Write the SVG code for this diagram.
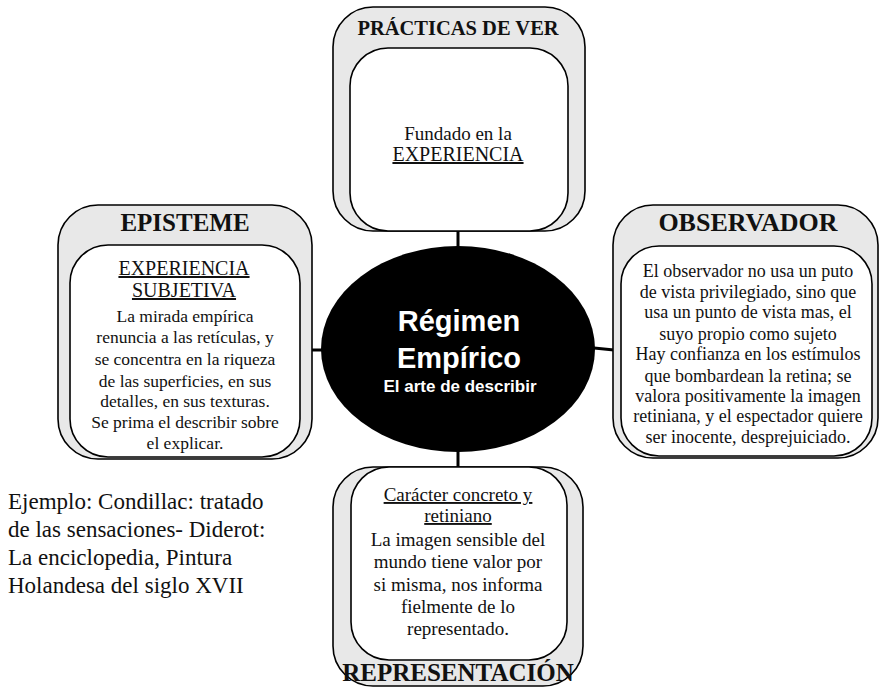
<svg xmlns="http://www.w3.org/2000/svg" width="881" height="687" viewBox="0 0 881 687">
<style>
.outer{fill:#e8e8e8;stroke:#000;stroke-width:1.6}
.inner{fill:#fff;stroke:#000;stroke-width:1.6}
.conn{stroke:#000;stroke-width:3;fill:none}
.title{font-family:"Liberation Serif",serif;font-weight:bold;text-anchor:middle;fill:#111}
.head{font-family:"Liberation Serif",serif;font-size:20px;text-anchor:middle;fill:#111;text-decoration:underline}
.body{font-family:"Liberation Serif",serif;text-anchor:middle;fill:#111}
.center{font-family:"Liberation Sans",Arial,sans-serif;font-weight:bold;fill:#fff;text-anchor:middle}
.note{font-family:"Liberation Serif",serif;font-size:23px;fill:#111}
</style>
<g id="connectors">
<line class="conn" x1="458" y1="231" x2="458" y2="247"/>
<line class="conn" x1="458" y1="451" x2="458" y2="467"/>
<line class="conn" x1="311" y1="350" x2="323" y2="350"/>
<line class="conn" x1="594" y1="348" x2="614" y2="350"/>
</g>
<g id="center">
<ellipse cx="458" cy="349" rx="137" ry="103" fill="#000"/>
<text class="center" x="459" y="331" font-size="29">Régimen</text>
<text class="center" x="459" y="368" font-size="29">Empírico</text>
<text class="center" x="460" y="392" font-size="17">El arte de describir</text>
</g>
<g id="practicas">
<rect class="outer" x="333" y="7" width="252" height="224" rx="40"/>
<rect class="inner" x="350" y="48" width="218" height="183" rx="38"/>
<text class="title" x="458" y="35" font-size="20.5">PRÁCTICAS DE VER</text>
<text class="body" x="458" y="140" font-size="19">Fundado en la</text>
<text class="head" x="458" y="161">EXPERIENCIA</text>
</g>
<g id="episteme">
<rect class="outer" x="58" y="205" width="254" height="254" rx="40"/>
<rect class="inner" x="70" y="245" width="230" height="212" rx="38"/>
<text class="title" x="185" y="231" font-size="25">EPISTEME</text>
<text class="head" x="184" y="275">EXPERIENCIA</text>
<text class="head" x="184" y="297">SUBJETIVA</text>
<g class="body" font-size="17.5">
<text x="185" y="322">La mirada empírica</text>
<text x="185" y="343">renuncia  a las retículas, y</text>
<text x="185" y="365">se concentra  en la riqueza</text>
<text x="185" y="387">de las superficies, en sus</text>
<text x="185" y="407">detalles, en sus texturas.</text>
<text x="185" y="428">Se prima el describir sobre</text>
<text x="185" y="449">el explicar.</text>
</g>
</g>
<g id="observador">
<rect class="outer" x="613" y="205" width="265" height="253" rx="40"/>
<rect class="inner" x="621" y="246" width="251" height="210" rx="38"/>
<text class="title" x="748" y="231" font-size="26">OBSERVADOR</text>
<g class="body" font-size="18">
<text x="748" y="277">El observador no usa un puto</text>
<text x="748" y="298">de vista privilegiado, sino que</text>
<text x="748" y="318">usa un punto de vista mas, el</text>
<text x="748" y="340">suyo propio como sujeto</text>
<text x="748" y="360">Hay confianza en los estímulos</text>
<text x="748" y="382">que bombardean la retina; se</text>
<text x="748" y="402">valora positivamente la imagen</text>
<text x="748" y="422">retiniana, y el espectador quiere</text>
<text x="748" y="443">ser inocente, desprejuiciado.</text>
</g>
</g>
<g id="representacion">
<rect class="outer" x="333" y="467" width="250" height="219" rx="40"/>
<rect class="inner" x="351" y="467" width="216" height="193" rx="38"/>
<text class="title" x="458" y="681" font-size="25">REPRESENTACIÓN</text>
<text class="head" x="458" y="501" style="font-size:19px">Carácter concreto y</text>
<text class="head" x="458" y="522" style="font-size:19px">retiniano</text>
<g class="body" font-size="19">
<text x="458" y="546">La imagen sensible del</text>
<text x="458" y="568">mundo tiene valor por</text>
<text x="458" y="591">si misma, nos informa</text>
<text x="458" y="613">fielmente de lo</text>
<text x="458" y="635">representado.</text>
</g>
</g>
<g id="ejemplo" class="note">
<text x="8" y="509">Ejemplo: Condillac: tratado</text>
<text x="8" y="537">de las sensaciones- Diderot:</text>
<text x="8" y="565">La enciclopedia, Pintura</text>
<text x="8" y="593">Holandesa del siglo XVII</text>
</g>
</svg>
